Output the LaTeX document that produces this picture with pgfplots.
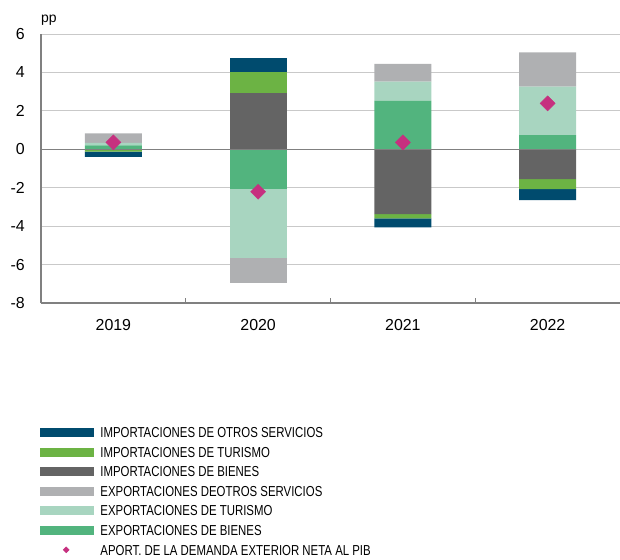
\documentclass[border=0pt]{standalone}
\usepackage{pgfplots}
\pgfplotsset{compat=1.18}
\usepackage{pgfplotstable}
\usepackage{fontspec}
\setmainfont{Liberation Sans}
\newfontfamily\narrowfont{Liberation Sans}[FakeStretch=0.79]

\definecolor{navyC}{HTML}{004B6E}
\definecolor{brightC}{HTML}{6CB344}
\definecolor{dgrayC}{HTML}{646464}
\definecolor{lgrayC}{HTML}{AFB0B2}
\definecolor{mintC}{HTML}{A8D5C0}
\definecolor{greenC}{HTML}{52B47E}
\definecolor{magC}{HTML}{C6307F}
\definecolor{axisC}{HTML}{808080}
\definecolor{gridC}{HTML}{C9C9C9}

% positive parts of each component (stacked upward)
\pgfplotstableread{
x expB impB expT impT expO impO
0 0.20 0.00 0.13 0.00 0.50 0.00
1 0.00 2.91 0.00 1.11 0.00 0.75
2 2.53 0.00 0.99 0.00 0.92 0.00
3 0.74 0.00 2.52 0.00 1.79 0.00
}\postable
% negative parts of each component (stacked downward)
\pgfplotstableread{
x expB impB expT impT expO impO
0 0.00 0.00 0.00 -0.12 0.00 -0.27
1 -2.07 0.00 -3.58 0.00 -1.31 0.00
2 0.00 -3.38 0.00 -0.22 0.00 -0.47
3 0.00 -1.55 0.00 -0.52 0.00 -0.58
}\negtable
% net contribution
\pgfplotstableread{
x y
0 0.36
1 -2.21
2 0.36
3 2.39
}\nettable

\pgfplotsset{
  base/.style={scale only axis, width=579bp, height=269bp,
    xmin=-0.5, xmax=3.5, ymin=-8, ymax=6, at={(0,0)}, anchor=south west},
  bars/.style={base, ybar stacked, bar width=57bp},
  swatch/.style={legend image code/.code={\fill[#1] (0bp,-4bp) rectangle (53bp,4bp);}},
}

\begin{document}
\begin{tikzpicture}
\useasboundingbox (-41bp,-257bp) rectangle (579bp,303bp);
\begin{axis}[bars, clip=false,
  axis x line*=bottom, axis y line*=left,
  axis line style={draw=axisC, line width=1.5bp},
  ymajorgrids, grid style={draw=gridC, line width=0.8bp},
  ytick={-8,-6,...,6}, yticklabels={-8,-6,-4,-2,0,2,4,6},
  ytick style={draw=none},
  xtick={0,1,2,3}, xticklabels={2019,2020,2021,2022},
  major tick length=0pt,
  x tick style={draw=axisC, line width=1bp},
  extra x ticks={0.5,1.5,2.5}, extra x tick labels={},
  extra x tick style={major tick length=5bp, tick align=inside},
  tick label style={font=\fontsize{16}{19}\selectfont, inner sep=0pt},
  yticklabel style={xshift=-16bp},
  xticklabel style={yshift=-16bp},
]
\addplot[fill=greenC, draw=none] table[x=x,y=expB]{\postable};
\addplot[fill=dgrayC, draw=none] table[x=x,y=impB]{\postable};
\addplot[fill=mintC, draw=none] table[x=x,y=expT]{\postable};
\addplot[fill=brightC, draw=none] table[x=x,y=impT]{\postable};
\addplot[fill=lgrayC, draw=none] table[x=x,y=expO]{\postable};
\addplot[fill=navyC, draw=none] table[x=x,y=impO]{\postable};
\node[anchor=base west, inner sep=0pt, font=\fontsize{14}{16}\selectfont] at (rel axis cs:0,1) [yshift=12bp] {pp};
\end{axis}
\begin{axis}[bars, hide axis]
\addplot[fill=greenC, draw=none] table[x=x,y=expB]{\negtable};
\addplot[fill=dgrayC, draw=none] table[x=x,y=impB]{\negtable};
\addplot[fill=mintC, draw=none] table[x=x,y=expT]{\negtable};
\addplot[fill=brightC, draw=none] table[x=x,y=impT]{\negtable};
\addplot[fill=lgrayC, draw=none] table[x=x,y=expO]{\negtable};
\addplot[fill=navyC, draw=none] table[x=x,y=impO]{\negtable};
\end{axis}
\begin{axis}[base, hide axis,
  legend style={draw=none, fill=none, inner sep=0pt, outer sep=0pt,
    at={(-0.0017,-0.461)}, anchor=north west,
    row sep=9.2bp, column sep=7bp,
    nodes={inner sep=0pt, text height=10.4bp, text depth=0bp,
      font=\narrowfont\fontsize{14.5}{16}\selectfont}},
  legend cell align=left,
]
\addplot[forget plot, draw=axisC, line width=1.5bp] coordinates {(-0.5,0) (3,0)};
\addlegendimage{swatch=navyC}
\addlegendentry{IMPORTACIONES DE OTROS SERVICIOS}
\addlegendimage{swatch=brightC}
\addlegendentry{IMPORTACIONES DE TURISMO}
\addlegendimage{swatch=dgrayC}
\addlegendentry{IMPORTACIONES DE BIENES}
\addlegendimage{swatch=lgrayC}
\addlegendentry{EXPORTACIONES DEOTROS SERVICIOS}
\addlegendimage{swatch=mintC}
\addlegendentry{EXPORTACIONES DE TURISMO}
\addlegendimage{swatch=greenC}
\addlegendentry{EXPORTACIONES DE BIENES}
\addplot[only marks, mark=square*, mark size=5.3bp,
  mark options={rotate=45, fill=magC, draw=magC},
  legend image code/.code={\fill[magC] (26bp,3bp) -- (29bp,0bp) -- (26bp,-3bp) -- (23bp,0bp) -- cycle;}]
  table[x=x,y=y]{\nettable};
\addlegendentry{APORT. DE LA DEMANDA EXTERIOR NETA AL PIB}
\end{axis}
\end{tikzpicture}
\end{document}
